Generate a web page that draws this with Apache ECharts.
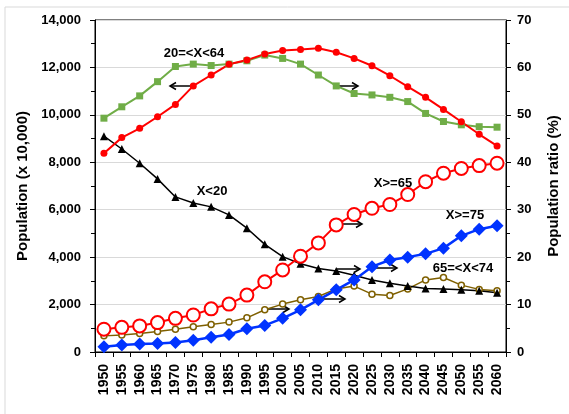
<!DOCTYPE html>
<html>
<head>
<meta charset="utf-8">
<script src="https://cdn.jsdelivr.net/npm/echarts@6/dist/echarts.min.js"></script>
<style>
html,body{margin:0;padding:0;background:#fff;}
#chart{width:569px;height:414px;}
</style>
</head>
<body>
<div id="chart"></div>
<script>
var categories = ['1950','1955','1960','1965','1970','1975','1980','1985','1990','1995','2000','2005','2010','2015','2020','2025','2030','2035','2040','2045','2050','2055','2060'];
var totalPop = [8380, 9040, 9430, 9920, 10440, 11220, 11680, 12130, 12310, 12570, 12710, 12760, 12810, 12640, 12380, 12070, 11650, 11190, 10740, 10230, 9710, 9180, 8690];
var ratio20to64 = [49.3, 51.7, 54.0, 57.0, 60.2, 60.7, 60.4, 60.7, 61.4, 62.6, 61.9, 60.7, 58.4, 56.1, 54.5, 54.2, 53.7, 52.8, 50.3, 48.6, 47.9, 47.5, 47.4];
var ratioUnder20 = [45.5, 42.8, 39.8, 36.5, 32.7, 31.4, 30.6, 28.9, 26.1, 22.7, 20.1, 18.6, 17.6, 17.1, 16.2, 15.2, 14.5, 13.9, 13.4, 13.3, 13.1, 12.9, 12.5];
var ratio65plus = [4.8, 5.2, 5.5, 6.2, 7.1, 7.8, 9.1, 10.1, 12.0, 14.8, 17.3, 20.2, 23.0, 26.8, 29.0, 30.3, 31.1, 33.2, 35.9, 37.7, 38.7, 39.3, 39.8];
var ratio75plus = [1.1, 1.5, 1.7, 1.8, 2.0, 2.5, 3.1, 3.7, 4.9, 5.6, 7.1, 8.9, 11.0, 13.1, 15.2, 18.0, 19.4, 20.0, 20.7, 21.9, 24.5, 25.9, 26.6];
var ratio65to74 = [3.4, 3.6, 3.9, 4.3, 4.8, 5.3, 5.8, 6.3, 7.2, 8.9, 10.1, 11.0, 11.7, 13.3, 13.9, 12.2, 11.9, 13.3, 15.2, 15.7, 14.1, 13.2, 12.9];
var leftTicks = [0, 14000, 2000];
var rightTicks = [0, 70, 10];

var fontFam = "'Liberation Sans',Arial,sans-serif";

function arrow(x1, x2, y) {
  var dir = x2 > x1 ? 1 : -1;
  return {
    type: 'group',
    children: [
      {type: 'line', shape: {x1: x1, y1: y, x2: x2, y2: y}, style: {stroke: '#000', lineWidth: 1.5}},
      {type: 'polyline', shape: {points: [[x2 - dir * 6, y - 3.5], [x2, y], [x2 - dir * 6, y + 3.5]]}, style: {stroke: '#000', lineWidth: 1.5, fill: null}}
    ]
  };
}
function label(text, cx, cy) {
  return {type: 'text', x: cx, y: cy, style: {text: text, font: 'bold 13px ' + fontFam, fill: '#000', textAlign: 'center', textVerticalAlign: 'middle'}};
}

var chart = echarts.init(document.getElementById('chart'));
chart.setOption({
  animation: false,
  backgroundColor: '#fff',
  grid: {left: 95, right: 62, top: 20, bottom: 62, show: true, borderColor: '#000', borderWidth: 1},
  xAxis: {
    type: 'category', data: categories, boundaryGap: true,
    axisLine: {lineStyle: {color: '#000', width: 1}},
    axisTick: {show: true, length: 5, lineStyle: {color: '#000'}},
    axisLabel: {rotate: 90, interval: 0, margin: 12, color: '#000', fontWeight: 'bold', fontSize: 14, fontFamily: fontFam}
  },
  yAxis: [
    {
      type: 'value', min: leftTicks[0], max: leftTicks[1], interval: leftTicks[2],
      name: 'Population (x 10,000)', nameLocation: 'middle', nameGap: 59,
      nameTextStyle: {color: '#000', fontWeight: 'bold', fontSize: 15, fontFamily: fontFam},
      axisLine: {show: true, lineStyle: {color: '#000'}},
      axisTick: {show: true, length: 5, lineStyle: {color: '#000'}},
      minorTick: {show: true, splitNumber: 2, length: 4, lineStyle: {color: '#000'}},
      splitLine: {show: true, lineStyle: {color: '#d9d9d9', width: 1}},
      axisLabel: {margin: 14, color: '#000', fontWeight: 'bold', fontSize: 13, fontFamily: fontFam,
        formatter: function (v) { return v.toLocaleString('en-US'); }}
    },
    {
      type: 'value', position: 'right', min: rightTicks[0], max: rightTicks[1], interval: rightTicks[2],
      name: 'Population ratio (%)', nameLocation: 'middle', nameGap: 40,
      nameTextStyle: {color: '#000', fontWeight: 'bold', fontSize: 15, fontFamily: fontFam},
      axisLine: {show: true, lineStyle: {color: '#000'}},
      axisTick: {show: true, length: 5, lineStyle: {color: '#000'}},
      minorTick: {show: true, splitNumber: 2, length: 4, lineStyle: {color: '#000'}},
      splitLine: {show: false},
      axisLabel: {margin: 11, color: '#000', fontWeight: 'bold', fontSize: 13, fontFamily: fontFam}
    }
  ],
  series: [
    {name: '65=<X<74', type: 'line', yAxisIndex: 1, data: ratio65to74, symbol: 'circle', symbolSize: 6,
      lineStyle: {color: '#7f6000', width: 1.5}, itemStyle: {color: '#fff', borderColor: '#7f6000', borderWidth: 1.5}},
    {name: 'X<20', type: 'line', yAxisIndex: 1, data: ratioUnder20, symbol: 'triangle', symbolSize: 8,
      lineStyle: {color: '#000', width: 1.5}, itemStyle: {color: '#000'}},
    {name: '20=<X<64', type: 'line', yAxisIndex: 1, data: ratio20to64, symbol: 'rect', symbolSize: 7,
      lineStyle: {color: '#70ad47', width: 2}, itemStyle: {color: '#70ad47'}},
    {name: 'Total', type: 'line', yAxisIndex: 0, data: totalPop, symbol: 'circle', symbolSize: 7,
      lineStyle: {color: '#ff0000', width: 2}, itemStyle: {color: '#ff0000'}},
    {name: 'X>=75', type: 'line', yAxisIndex: 1, data: ratio75plus, symbol: 'diamond', symbolSize: 13,
      lineStyle: {color: '#0033ff', width: 2.5}, itemStyle: {color: '#0033ff'}},
    {name: 'X>=65', type: 'line', yAxisIndex: 1, data: ratio65plus, symbol: 'circle', symbolSize: 13,
      lineStyle: {color: '#ff0000', width: 2}, itemStyle: {color: '#fff', borderColor: '#ff0000', borderWidth: 2}}
  ],
  graphic: [
    {type: 'rect', shape: {x: 5, y: 7, width: 620, height: 500}, style: {fill: null, stroke: '#d9d9d9', lineWidth: 1}, z: -10},
    label('20=<X<64', 194, 53),
    label('X<20', 212, 191),
    label('X>=65', 393, 183),
    label('X>=75', 465, 215),
    label('65=<X<74', 463, 268),
    arrow(194, 170, 86),
    arrow(334, 358, 86),
    arrow(338, 362, 224),
    arrow(337, 360, 269),
    arrow(373, 397, 268),
    arrow(321, 345, 299),
    arrow(265, 289, 309)
  ]
});
</script>
</body>
</html>
